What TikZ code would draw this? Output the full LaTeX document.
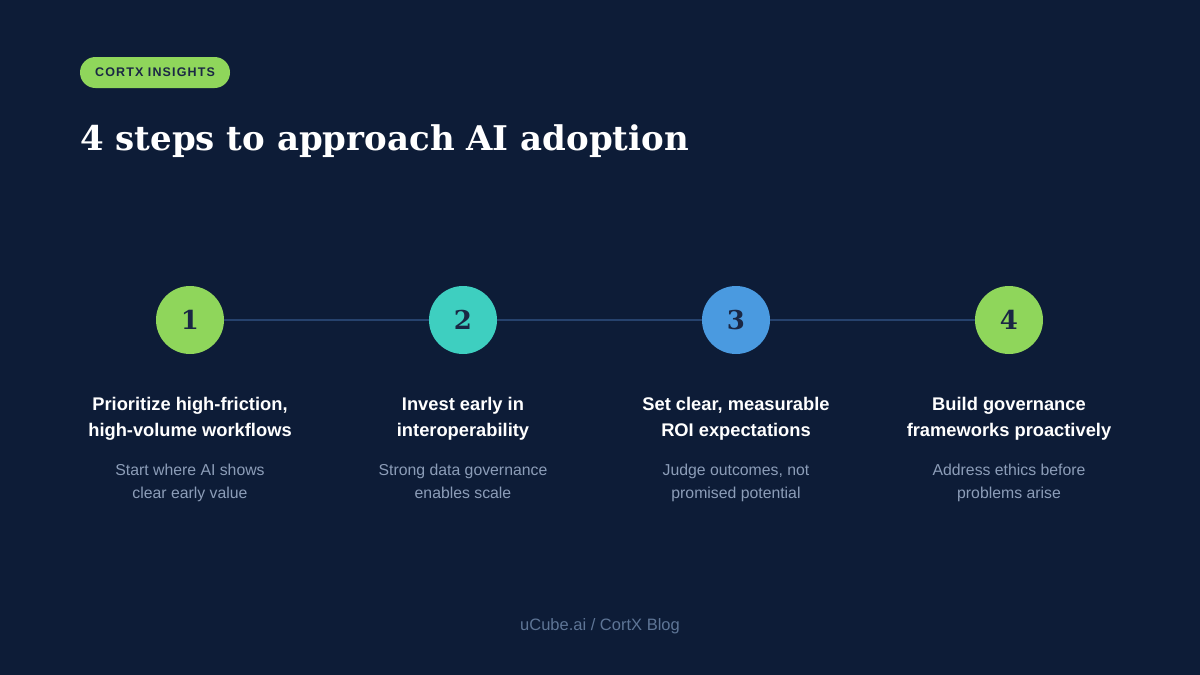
\documentclass[tikz,border=0pt]{standalone}
\usepackage{fontspec}
\setmainfont{Liberation Sans}
\newfontfamily\serifhead{DejaVu Serif}
\newfontfamily\badgefont[LetterSpace=9]{Liberation Sans}
\usepackage{tikz}
\definecolor{bgnavy}{HTML}{0D1C37}
\definecolor{limec}{HTML}{8FD65B}
\definecolor{tealc}{HTML}{3ECFC0}
\definecolor{skyc}{HTML}{4A9AE0}
\definecolor{inkdark}{HTML}{1A2744}
\definecolor{linec}{HTML}{26426D}
\definecolor{subc}{HTML}{8C9DB8}
\definecolor{footc}{HTML}{5E7596}

\tikzset{
  stepdot/.style={circle, minimum size=68pt, inner sep=0pt,
    font=\serifhead\bfseries\fontsize{26}{26}\selectfont, text=inkdark},
  steptitle/.style={anchor=north, inner sep=0pt, align=center, text=white,
    font=\bfseries\fontsize{18.3}{26}\selectfont},
  stepnote/.style={anchor=north, inner sep=0pt, align=center, text=subc,
    font=\fontsize{15.8}{23}\selectfont}
}

\begin{document}
\begin{tikzpicture}[x=1pt, y=-1pt]
  \fill[bgnavy] (0,0) rectangle (1200,675);
  % badge and title
  \node[fill=limec, rounded corners=15.5pt, minimum width=150pt, minimum height=31pt,
    text=inkdark, font=\badgefont\bfseries\fontsize{12.5}{12.5}\selectfont] (badge) at (155,72.5) {CORTX INSIGHTS};
  \node[anchor=base west, inner sep=0pt, text=white,
    font=\serifhead\bfseries\fontsize{34}{34}\selectfont] (title) at (80,150) {4 steps to approach AI adoption};
  % steps
  \node[stepdot, fill=limec] (s1) at (190,320) {1};
  \node[stepdot, fill=tealc] (s2) at (463,320) {2};
  \node[stepdot, fill=skyc] (s3) at (736,320) {3};
  \node[stepdot, fill=limec] (s4) at (1009,320) {4};
  \draw[linec, line width=2.5pt] (s1) -- (s2) (s2) -- (s3) (s3) -- (s4);
  \node[steptitle] (t1) at (190,397) {Prioritize high-friction,\\high-volume workflows};
  \node[steptitle] (t2) at (463,397) {Invest early in\\interoperability};
  \node[steptitle] (t3) at (736,397) {Set clear, measurable\\ROI expectations};
  \node[steptitle] (t4) at (1009,397) {Build governance\\frameworks proactively};
  \node[stepnote] (n1) at (190,464) {Start where AI shows\\clear early value};
  \node[stepnote] (n2) at (463,464) {Strong data governance\\enables scale};
  \node[stepnote] (n3) at (736,464) {Judge outcomes, not\\promised potential};
  \node[stepnote] (n4) at (1009,464) {Address ethics before\\problems arise};
  % footer
  \node[text=footc, font=\fontsize{16.5}{16.5}\selectfont, anchor=base] (foot) at (600,630) {uCube.ai / CortX Blog};
\end{tikzpicture}
\end{document}
